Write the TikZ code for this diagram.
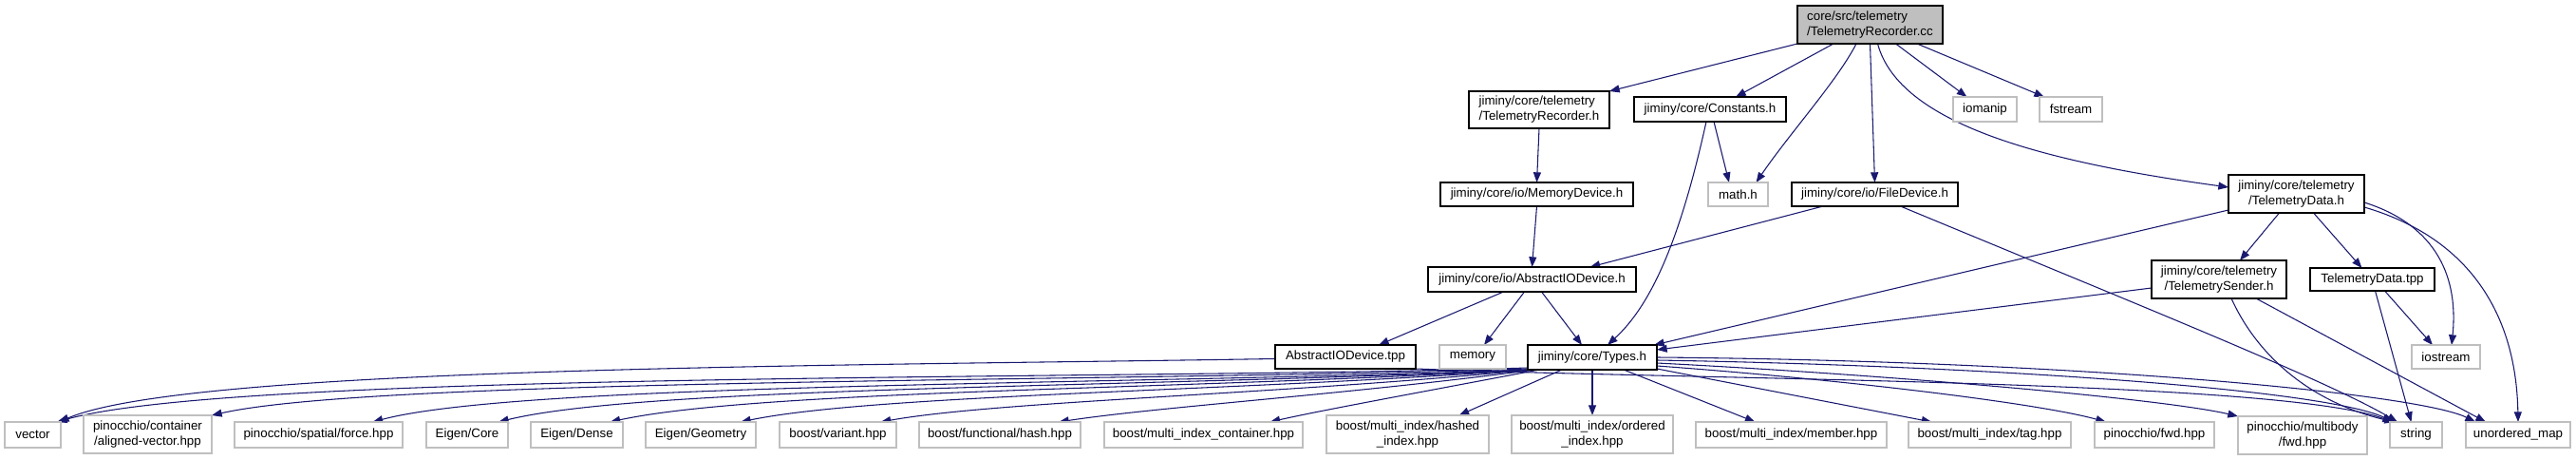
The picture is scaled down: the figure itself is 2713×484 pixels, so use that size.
\documentclass[tikz,border=0pt]{standalone}
\usepackage{fontspec}
\setmainfont{Liberation Sans}
\usetikzlibrary{arrows.meta,calc}
\definecolor{edgec}{HTML}{191970}
\definecolor{greyb}{HTML}{BFBFBF}
\pgfdeclarelayer{edgelayer}
\pgfsetlayers{edgelayer,main}
\tikzset{
 nbase/.style={rectangle, inner sep=0pt, outer sep=0pt, font=\fontsize{10pt}{12pt}\selectfont, line width=0.8pt},
 doc/.style={nbase, draw=black, fill=white},
 ext/.style={nbase, draw=greyb, fill=white},
 rootn/.style={nbase, draw=black, fill=greyb},
 dep/.style={draw=edgec, line width=0.8pt, -{Triangle[length=8pt,width=6pt]}},
}
\newcommand\nd[7]{\node[#1, minimum width={(#5-#3)*0.75pt}, minimum height={(#6-#4)*0.75pt}] (#2) at ({(#3+#5)/2},{(#4+#6)/2}) {#7};}
\begin{document}
\begin{tikzpicture}[x=0.75pt,y=-0.75pt]
\useasboundingbox (0,0) rectangle (2713,484);
% nodes
\nd{rootn,align=left}{root}{1893}{6}{2046}{46}{core/src/telemetry\\/TelemetryRecorder.cc}
\nd{doc,align=left}{trh}{1547}{96}{1695}{135}{jiminy/core/telemetry\\/TelemetryRecorder.h}
\nd{doc}{const}{1721}{102}{1881}{128}{jiminy/core/Constants.h}
\nd{ext}{iomanip}{2057}{102}{2124}{128}{iomanip}
\nd{ext}{fstream}{2148}{102}{2214}{128}{fstream}
\nd{doc}{memdev}{1517}{192}{1720}{217}{jiminy/core/io/MemoryDevice.h}
\nd{ext}{math}{1799}{192}{1862}{217}{math.h}
\nd{doc}{filedev}{1887}{192}{2062}{217}{jiminy/core/io/FileDevice.h}
\nd{doc,align=center}{tdh}{2347}{184}{2490}{224}{jiminy/core/telemetry\\/TelemetryData.h}
\nd{doc}{aiod}{1504}{281}{1723}{307}{jiminy/core/io/AbstractIODevice.h}
\nd{doc,align=center}{tsh}{2266}{274}{2408}{314}{jiminy/core/telemetry\\/TelemetrySender.h}
\nd{doc}{tdtpp}{2433}{282}{2564}{306}{TelemetryData.tpp}
\nd{doc}{aiotpp}{1343}{363}{1491}{388}{AbstractIODevice.tpp}
\nd{ext}{memory}{1516}{363}{1586}{388}{memory}
\nd{doc}{types}{1609}{363}{1745}{389}{jiminy/core/Types.h}
\nd{ext}{iostream}{2540}{363}{2612}{388}{iostream}
\nd{ext}{vector}{5}{444}{64}{471}{vector}
\nd{ext,align=center}{aligned}{88}{437}{223}{477}{pinocchio/container\\/aligned-vector.hpp}
\nd{ext}{force}{247}{444}{424}{471}{pinocchio/spatial/force.hpp}
\nd{ext}{core}{449}{444}{535}{471}{Eigen/Core}
\nd{ext}{dense}{559}{444}{656}{471}{Eigen/Dense}
\nd{ext}{geometry}{680}{444}{796}{471}{Eigen/Geometry}
\nd{ext}{variant}{821}{444}{944}{471}{boost/variant.hpp}
\nd{ext}{hash}{968}{444}{1138}{471}{boost/functional/hash.hpp}
\nd{ext}{mic}{1163}{444}{1372}{471}{boost/multi\_index\_container.hpp}
\nd{ext,align=center}{hashed}{1397}{437}{1568}{477}{boost/multi\_index/hashed\\\_index.hpp}
\nd{ext,align=center}{ordered}{1592}{437}{1762}{477}{boost/multi\_index/ordered\\\_index.hpp}
\nd{ext}{member}{1786}{444}{1987}{471}{boost/multi\_index/member.hpp}
\nd{ext}{tag}{2010}{444}{2181}{471}{boost/multi\_index/tag.hpp}
\nd{ext}{pfwd}{2206}{444}{2332}{471}{pinocchio/fwd.hpp}
\nd{ext,align=center}{mbfwd}{2357}{438}{2493}{478}{pinocchio/multibody\\/fwd.hpp}
\nd{ext}{string}{2517}{444}{2572}{471}{string}
\nd{ext}{umap}{2597}{444}{2707}{471}{unordered\_map}
\begin{pgfonlayer}{edgelayer}
% edges from root
\draw[dep] (root.south west) -- (trh.north east);
\draw[dep] ($(root.south west)+(38,0)$) -- ($(const.north)+(27,0)$);
\draw[dep] ($(root.south west)+(62,0)$) .. controls (1935,85) and (1885,140) .. ($(math.north)+(19,0)$);
\draw[dep] (root.south) -- (filedev.north);
\draw[dep] ($(root.south)+(8,0)$) .. controls (2000,130) and (2150,170) .. ($(tdh.west)+(0,-7)$);
\draw[dep] ($(root.south)+(27,0)$) -- ($(iomanip.north)+(-19,0)$);
\draw[dep] ($(root.south east)+(-27,0)$) -- ($(fstream.north west)+(5,0)$);
% middle
\draw[dep] (trh.south) -- (memdev.north);
\draw[dep] ($(const.south)+(4,0)$) -- ($(math.north)+(-9.5,0)$);
\draw[dep] ($(const.south)+(-4,0)$) .. controls (1770,250) and (1740,320) .. ($(types.north)+(16,0)$);
\draw[dep] (memdev.south) -- (aiod.north);
\draw[dep] ($(filedev.south west)+(33,0)$) -- ($(aiod.north)+(61,0)$);
\draw[dep] ($(filedev.south)+(27,0)$) .. controls (2250,320) and (2450,400) .. ($(string.north west)+(8,0)$);
\draw[dep] ($(aiod.south)+(-30,0)$) -- ($(aiotpp.north)+(35,0)$);
\draw[dep] ($(aiod.south)+(-8,0)$) -- ($(memory.north)+(12,0)$);
\draw[dep] ($(aiod.south)+(10,0)$) -- ($(types.north)+(-11,0)$);
\draw[dep] ($(tdh.south west)+(0,-3)$) -- ($(types.north east)+(-3,0)$);
\draw[dep] ($(tdh.south)+(-18,0)$) -- ($(tsh.north)+(22,0)$);
\draw[dep] ($(tdh.south)+(18,0)$) -- ($(tdtpp.north)+(-11,0)$);
\draw[dep] ($(tdh.east)+(0,9)$) .. controls (2560,235) and (2590,285) .. ($(iostream.north)+(6,0)$);
\draw[dep] ($(tdh.east)+(0,14)$) .. controls (2600,250) and (2650,330) .. (umap.north);
\draw[dep] ($(tsh.west)+(0,9)$) -- ($(types.north east)+(0,5)$);
\draw[dep] ($(tsh.south)+(13,0)$) .. controls (2380,380) and (2440,425) .. ($(string.north west)+(5,0)$);
\draw[dep] ($(tsh.south)+(39,0)$) -- ($(umap.north)+(-34,0)$);
\draw[dep] ($(tdtpp.south)+(13,0)$) -- ($(iostream.north)+(-14,0)$);
\draw[dep] ($(tdtpp.south)+(3,0)$) -- ($(string.north)+(-5,0)$);
\draw[dep] ($(aiotpp.west)+(0,2)$) .. controls (900,385) and (200,385) .. ($(vector.north east)+(-2,0)$);
\draw[dep] (aiotpp.south east) .. controls (1800,400) and (2400,400) .. ($(string.north west)+(3,0)$);
% edges from Types.h
\draw[dep] ($(types.south west)+(0,-2)$) .. controls (1200,400) and (250,390) .. ($(vector.north east)+(-4,0)$);
\draw[dep] ($(types.south west)+(0,-1)$) .. controls (1200,402) and (400,397) .. (aligned.north east);
\draw[dep] (types.south west) .. controls (1200,405) and (550,402) .. ($(force.north)+(57,0)$);
\draw[dep] ($(types.south west)+(1,0)$) .. controls (1200,408) and (680,406) .. ($(core.north)+(33,0)$);
\draw[dep] ($(types.south west)+(2,0)$) .. controls (1250,410) and (800,410) .. ($(dense.north)+(35,0)$);
\draw[dep] ($(types.south west)+(3,0)$) .. controls (1300,412) and (920,415) .. ($(geometry.north)+(42,0)$);
\draw[dep] ($(types.south west)+(5,0)$) .. controls (1350,415) and (1050,422) .. ($(variant.north)+(45,0)$);
\draw[dep] ($(types.south west)+(8,0)$) .. controls (1420,415) and (1220,428) .. ($(hash.north)+(62,0)$);
\draw[dep] ($(types.south west)+(12,0)$) .. controls (1500,412) and (1390,432) .. ($(mic.north)+(70,0)$);
\draw[dep] ($(types.south)+(-32,0)$) -- ($(hashed.north)+(54,0)$);
\draw[dep] (types.south) -- (ordered.north);
\draw[dep] ($(types.south)+(33,0)$) -- ($(member.north)+(-38,0)$);
\draw[dep] ($(types.south east)+(0,-1)$) -- ($(tag.north)+(-61,0)$);
\draw[dep] ($(types.east)+(0,9)$) .. controls (1950,400) and (2150,425) .. ($(pfwd.north)+(-51,0)$);
\draw[dep] ($(types.east)+(0,6)$) .. controls (2000,395) and (2280,420) .. (mbfwd.north west);
\draw[dep] ($(types.east)+(0,3)$) .. controls (2100,385) and (2450,410) .. ($(string.north west)+(4,0)$);
\draw[dep] (types.east) .. controls (2200,380) and (2550,415) .. ($(umap.north west)+(10,0)$);
\end{pgfonlayer}
\end{tikzpicture}
\end{document}
